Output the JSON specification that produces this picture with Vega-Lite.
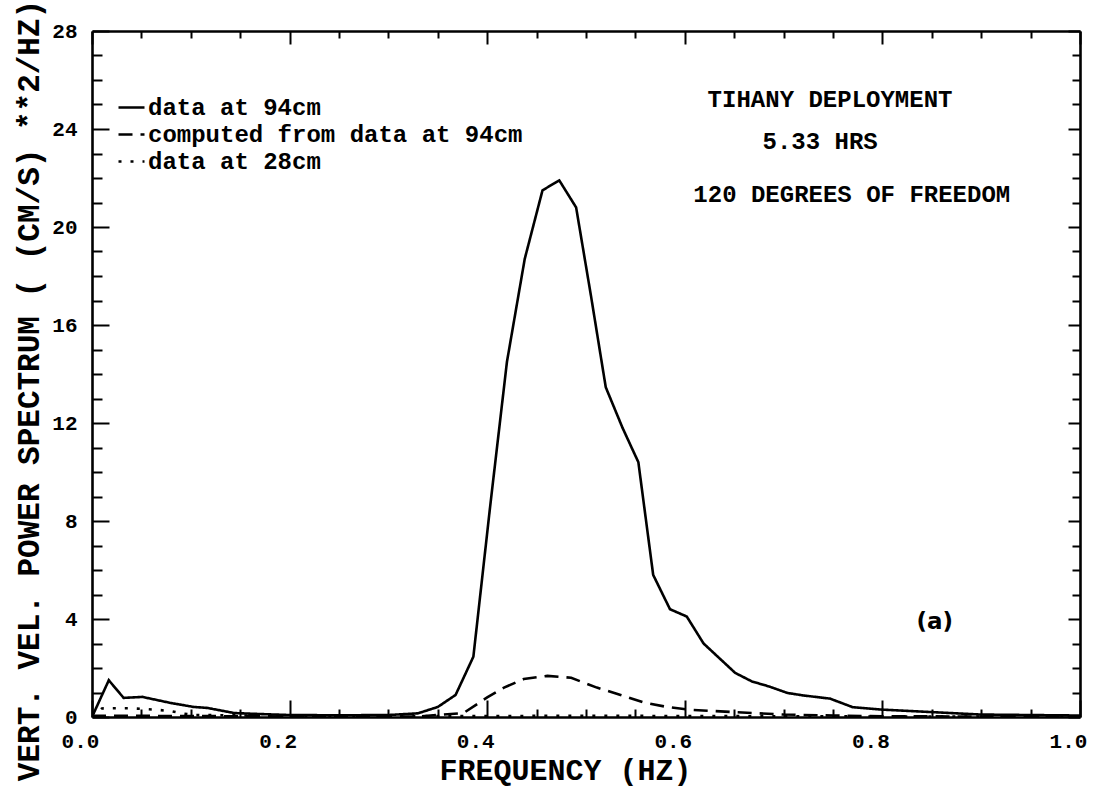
{
  "$schema": "https://vega.github.io/schema/vega-lite/v6.json",
  "width": 988,
  "height": 686,
  "autosize": "none",
  "padding": {"left": 92, "top": 31, "right": 13, "bottom": 70},
  "background": "white",
  "config": {"view": {"stroke": null}},
  "datasets": {
    "spec": [
      {"f": 0.0, "p": 0.0, "series": "data at 94cm"},
      {"f": 0.017, "p": 1.5, "series": "data at 94cm"},
      {"f": 0.032, "p": 0.78, "series": "data at 94cm"},
      {"f": 0.051, "p": 0.82, "series": "data at 94cm"},
      {"f": 0.08, "p": 0.57, "series": "data at 94cm"},
      {"f": 0.103, "p": 0.41, "series": "data at 94cm"},
      {"f": 0.117, "p": 0.37, "series": "data at 94cm"},
      {"f": 0.144, "p": 0.16, "series": "data at 94cm"},
      {"f": 0.171, "p": 0.12, "series": "data at 94cm"},
      {"f": 0.2, "p": 0.08, "series": "data at 94cm"},
      {"f": 0.25, "p": 0.07, "series": "data at 94cm"},
      {"f": 0.3, "p": 0.08, "series": "data at 94cm"},
      {"f": 0.33, "p": 0.15, "series": "data at 94cm"},
      {"f": 0.35, "p": 0.41, "series": "data at 94cm"},
      {"f": 0.368, "p": 0.9, "series": "data at 94cm"},
      {"f": 0.386, "p": 2.46, "series": "data at 94cm"},
      {"f": 0.403, "p": 8.6, "series": "data at 94cm"},
      {"f": 0.42, "p": 14.5, "series": "data at 94cm"},
      {"f": 0.438, "p": 18.7, "series": "data at 94cm"},
      {"f": 0.456, "p": 21.5, "series": "data at 94cm"},
      {"f": 0.473, "p": 21.9, "series": "data at 94cm"},
      {"f": 0.49, "p": 20.8, "series": "data at 94cm"},
      {"f": 0.505, "p": 17.2, "series": "data at 94cm"},
      {"f": 0.52, "p": 13.46, "series": "data at 94cm"},
      {"f": 0.537, "p": 11.8, "series": "data at 94cm"},
      {"f": 0.553, "p": 10.4, "series": "data at 94cm"},
      {"f": 0.568, "p": 5.8, "series": "data at 94cm"},
      {"f": 0.585, "p": 4.4, "series": "data at 94cm"},
      {"f": 0.602, "p": 4.1, "series": "data at 94cm"},
      {"f": 0.619, "p": 3.0, "series": "data at 94cm"},
      {"f": 0.635, "p": 2.4, "series": "data at 94cm"},
      {"f": 0.651, "p": 1.8, "series": "data at 94cm"},
      {"f": 0.668, "p": 1.45, "series": "data at 94cm"},
      {"f": 0.685, "p": 1.25, "series": "data at 94cm"},
      {"f": 0.704, "p": 0.98, "series": "data at 94cm"},
      {"f": 0.72, "p": 0.88, "series": "data at 94cm"},
      {"f": 0.747, "p": 0.75, "series": "data at 94cm"},
      {"f": 0.77, "p": 0.4, "series": "data at 94cm"},
      {"f": 0.8, "p": 0.3, "series": "data at 94cm"},
      {"f": 0.85, "p": 0.2, "series": "data at 94cm"},
      {"f": 0.9, "p": 0.1, "series": "data at 94cm"},
      {"f": 0.95, "p": 0.08, "series": "data at 94cm"},
      {"f": 1.0, "p": 0.06, "series": "data at 94cm"},

      {"f": 0.0, "p": 0.05, "series": "computed from data at 94cm"},
      {"f": 0.1, "p": 0.04, "series": "computed from data at 94cm"},
      {"f": 0.2, "p": 0.02, "series": "computed from data at 94cm"},
      {"f": 0.33, "p": 0.02, "series": "computed from data at 94cm"},
      {"f": 0.376, "p": 0.16, "series": "computed from data at 94cm"},
      {"f": 0.4, "p": 0.8, "series": "computed from data at 94cm"},
      {"f": 0.417, "p": 1.2, "series": "computed from data at 94cm"},
      {"f": 0.437, "p": 1.55, "series": "computed from data at 94cm"},
      {"f": 0.461, "p": 1.68, "series": "computed from data at 94cm"},
      {"f": 0.485, "p": 1.6, "series": "computed from data at 94cm"},
      {"f": 0.511, "p": 1.2, "series": "computed from data at 94cm"},
      {"f": 0.535, "p": 0.9, "series": "computed from data at 94cm"},
      {"f": 0.558, "p": 0.6, "series": "computed from data at 94cm"},
      {"f": 0.582, "p": 0.41, "series": "computed from data at 94cm"},
      {"f": 0.606, "p": 0.29, "series": "computed from data at 94cm"},
      {"f": 0.65, "p": 0.2, "series": "computed from data at 94cm"},
      {"f": 0.7, "p": 0.1, "series": "computed from data at 94cm"},
      {"f": 0.75, "p": 0.06, "series": "computed from data at 94cm"},
      {"f": 0.8, "p": 0.03, "series": "computed from data at 94cm"},
      {"f": 0.9, "p": 0.02, "series": "computed from data at 94cm"},
      {"f": 1.0, "p": 0.02, "series": "computed from data at 94cm"},

      {"f": 0.0, "p": 0.0, "series": "data at 28cm"},
      {"f": 0.01, "p": 0.35, "series": "data at 28cm"},
      {"f": 0.037, "p": 0.36, "series": "data at 28cm"},
      {"f": 0.064, "p": 0.3, "series": "data at 28cm"},
      {"f": 0.08, "p": 0.24, "series": "data at 28cm"},
      {"f": 0.092, "p": 0.14, "series": "data at 28cm"},
      {"f": 0.104, "p": 0.08, "series": "data at 28cm"},
      {"f": 0.136, "p": 0.07, "series": "data at 28cm"},
      {"f": 0.2, "p": 0.04, "series": "data at 28cm"},
      {"f": 0.3, "p": 0.03, "series": "data at 28cm"},
      {"f": 0.4, "p": 0.04, "series": "data at 28cm"},
      {"f": 0.5, "p": 0.05, "series": "data at 28cm"},
      {"f": 0.6, "p": 0.04, "series": "data at 28cm"},
      {"f": 0.8, "p": 0.02, "series": "data at 28cm"},
      {"f": 1.0, "p": 0.01, "series": "data at 28cm"}
    ]
  },
  "resolve": {"axis": {"x": "independent", "y": "independent"}},
  "layer": [
    {
      "data": {"name": "spec"},
      "mark": {"type": "line", "color": "black", "strokeWidth": 2.6, "clip": true},
      "encoding": {
        "x": {
          "field": "f", "type": "quantitative",
          "scale": {"domain": [0, 1], "nice": false, "zero": false},
          "axis": {
            "orient": "bottom",
            "values": [0, 0.05, 0.1, 0.15, 0.2, 0.25, 0.3, 0.35, 0.4, 0.45, 0.5, 0.55, 0.6, 0.65, 0.7, 0.75, 0.8, 0.85, 0.9, 0.95, 1.0],
            "labelExpr": "abs(datum.value*5 - round(datum.value*5)) < 0.01 ? format(datum.value, '.1f') : ''",
            "tickSize": {"condition": {"test": "abs(datum.value*5 - round(datum.value*5)) < 0.01", "value": -17}, "value": -8},
            "tickColor": "black", "tickWidth": 2,
            "domainColor": "black", "domainWidth": 2.6,
            "grid": false,
            "labelFont": "Liberation Mono", "labelFontWeight": "bold", "labelFontSize": 21, "labelColor": "black",
            "labelPadding": 30, "labelOffset": -12, "labelFlush": false, "labelOverlap": false,
            "title": "FREQUENCY  (HZ)",
            "titleFont": "Liberation Mono", "titleFontWeight": "bold", "titleFontSize": 30, "titleColor": "black",
            "titleX": 473, "titleY": 62, "titleBaseline": "alphabetic", "titleAnchor": null, "titleAlign": "center"
          }
        },
        "y": {
          "field": "p", "type": "quantitative",
          "scale": {"domain": [0, 28], "nice": false},
          "axis": {
            "orient": "left",
            "values": [0,1,2,3,4,5,6,7,8,9,10,11,12,13,14,15,16,17,18,19,20,21,22,23,24,25,26,27,28],
            "labelExpr": "datum.value % 4 == 0 ? format(datum.value, 'd') : ''",
            "tickSize": {"condition": {"test": "datum.value % 4 == 0", "value": -17}, "value": -10},
            "tickColor": "black", "tickWidth": 2,
            "domainColor": "black", "domainWidth": 2.6,
            "grid": false,
            "labelFont": "Liberation Mono", "labelFontWeight": "bold", "labelFontSize": 21, "labelColor": "black",
            "labelPadding": 32, "labelFlush": false, "labelOverlap": false,
            "title": "VERT. VEL. POWER SPECTRUM ( (CM/S) **2/HZ)",
            "titleFont": "Liberation Mono", "titleFontWeight": "bold", "titleFontSize": 31, "titleColor": "black",
            "titleX": -54, "titleY": 359, "titleAngle": -90, "titleBaseline": "alphabetic", "titleAnchor": null, "titleAlign": "center"
          }
        },
        "strokeDash": {
          "field": "series", "type": "nominal",
          "scale": {
            "domain": ["data at 94cm", "computed from data at 94cm", "data at 28cm"],
            "range": [[1, 0], [14, 8], [3, 9]]
          },
          "legend": {
            "orient": "none", "legendX": 25, "legendY": 62,
            "title": null,
            "symbolType": "stroke", "symbolSize": 676,
            "symbolStrokeColor": "black", "symbolStrokeWidth": 2.6,
            "labelFont": "Liberation Mono", "labelFontSize": 24, "labelFontWeight": "bold", "labelColor": "black",
            "labelLimit": 800,
            "labelOffset": 2, "rowPadding": 0, "padding": 0
          }
        }
      }
    },
    {
      "data": {"values": [{}]},
      "mark": {"type": "text", "text": "TIHANY DEPLOYMENT", "font": "Liberation Mono", "fontWeight": "bold", "fontSize": 24, "color": "black", "align": "center", "baseline": "middle"},
      "encoding": {
        "x": {"datum": 0.747, "type": "quantitative", "axis": {
            "orient": "top",
            "values": [0, 0.05, 0.1, 0.15, 0.2, 0.25, 0.3, 0.35, 0.4, 0.45, 0.5, 0.55, 0.6, 0.65, 0.7, 0.75, 0.8, 0.85, 0.9, 0.95, 1.0],
            "labels": false, "title": null, "grid": false,
            "tickSize": {"condition": {"test": "abs(datum.value*5 - round(datum.value*5)) < 0.01", "value": -13}, "value": -7},
            "tickColor": "black", "tickWidth": 2,
            "domainColor": "black", "domainWidth": 2.6
          }},
        "y": {"datum": 25.2, "type": "quantitative", "axis": {
            "orient": "right",
            "values": [0,1,2,3,4,5,6,7,8,9,10,11,12,13,14,15,16,17,18,19,20,21,22,23,24,25,26,27,28],
            "labels": false, "title": null, "grid": false,
            "tickSize": {"condition": {"test": "datum.value % 4 == 0", "value": -12}, "value": -8},
            "tickColor": "black", "tickWidth": 2,
            "domainColor": "black", "domainWidth": 2.6
          }}
      }
    },
    {
      "data": {"values": [{}]},
      "mark": {"type": "text", "text": "5.33 HRS", "font": "Liberation Mono", "fontWeight": "bold", "fontSize": 24, "color": "black", "align": "center", "baseline": "middle"},
      "encoding": {
        "x": {"datum": 0.737, "type": "quantitative", "axis": null},
        "y": {"datum": 23.47, "type": "quantitative", "axis": null}
      }
    },
    {
      "data": {"values": [{}]},
      "mark": {"type": "text", "text": "120 DEGREES OF FREEDOM", "font": "Liberation Mono", "fontWeight": "bold", "fontSize": 24, "color": "black", "align": "center", "baseline": "middle"},
      "encoding": {
        "x": {"datum": 0.769, "type": "quantitative", "axis": null},
        "y": {"datum": 21.3, "type": "quantitative", "axis": null}
      }
    },
    {
      "data": {"values": [{}]},
      "mark": {"type": "text", "text": "(a)", "font": "DejaVu Sans", "fontWeight": "bold", "fontSize": 23, "color": "black", "align": "center", "baseline": "middle"},
      "encoding": {
        "x": {"datum": 0.853, "type": "quantitative", "axis": null},
        "y": {"datum": 3.88, "type": "quantitative", "axis": null}
      }
    }
  ]
}
